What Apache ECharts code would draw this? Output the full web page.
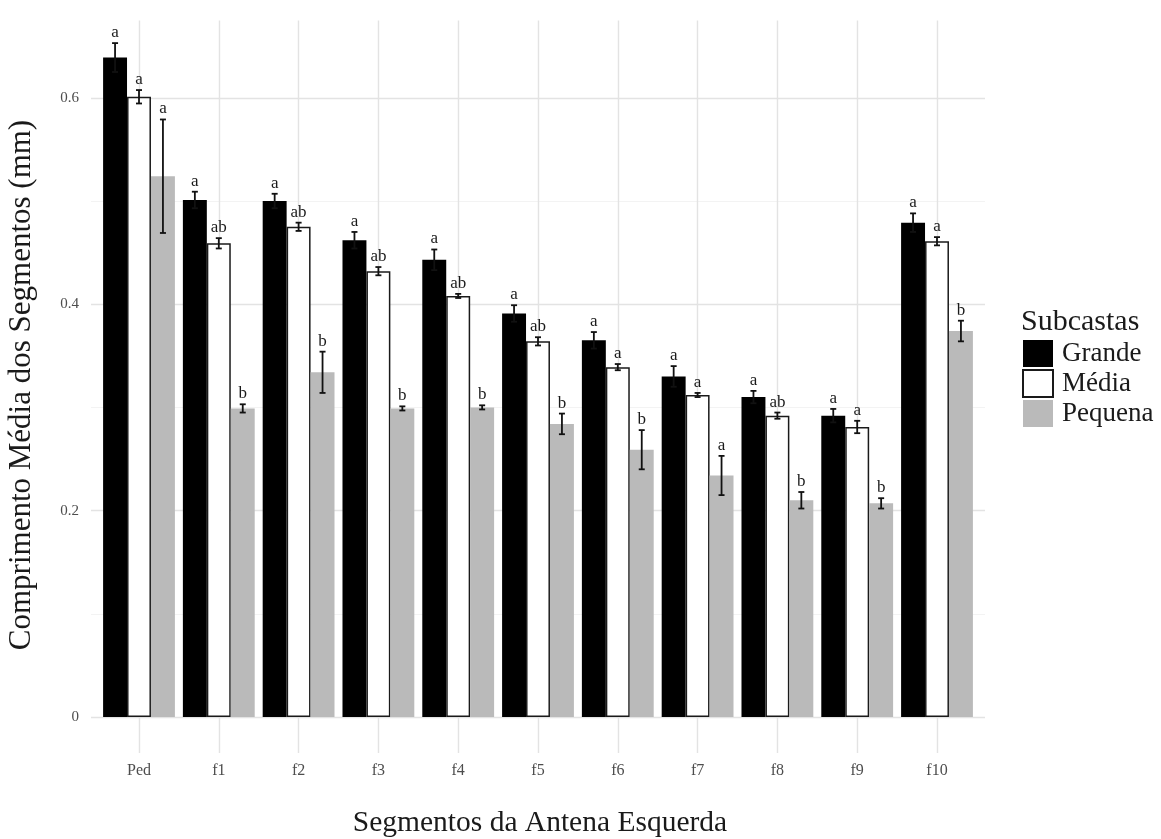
<!DOCTYPE html>
<html>
<head>
<meta charset="utf-8">
<script src="https://cdn.jsdelivr.net/npm/echarts@6/dist/echarts.min.js"></script>
<style>
html,body{margin:0;padding:0;background:#fff;}
#chart{width:1161px;height:839px;}
</style>
</head>
<body>
<div id="chart"></div>
<script>
const categories = ['Ped', 'f1', 'f2', 'f3', 'f4', 'f5', 'f6', 'f7', 'f8', 'f9', 'f10'];
const seriesNames = ['Grande', 'Média', 'Pequena'];
const grande = [0.639, 0.501, 0.500, 0.462, 0.443, 0.391, 0.365, 0.330, 0.310, 0.292, 0.479];
const grandeErr = [0.014, 0.008, 0.007, 0.008, 0.010, 0.008, 0.008, 0.010, 0.006, 0.0065, 0.009];
const media = [0.601, 0.459, 0.475, 0.432, 0.408, 0.364, 0.339, 0.312, 0.292, 0.281, 0.461];
const mediaErr = [0.0065, 0.005, 0.004, 0.004, 0.002, 0.004, 0.003, 0.002, 0.003, 0.006, 0.004];
const pequena = [0.524, 0.299, 0.334, 0.299, 0.300, 0.284, 0.259, 0.234, 0.210, 0.207, 0.374];
const pequenaErr = [0.055, 0.004, 0.020, 0.002, 0.002, 0.010, 0.019, 0.019, 0.008, 0.005, 0.010];
const grandeLetters = ['a', 'a', 'a', 'a', 'a', 'a', 'a', 'a', 'a', 'a', 'a'];
const mediaLetters = ['a', 'ab', 'ab', 'ab', 'ab', 'ab', 'a', 'a', 'ab', 'a', 'a'];
const pequenaLetters = ['a', 'b', 'b', 'b', 'b', 'b', 'b', 'a', 'b', 'b', 'b'];
const yLabelTicks = [0, 0.2, 0.4, 0.6];
const yMajorGrid = [0, 0.2, 0.4, 0.6];
const yMinorGrid = [0.1, 0.3, 0.5];

const FONT = "'Liberation Serif', 'DejaVu Serif', serif";
const colors = ['#000000', '#ffffff', '#bababa'];
const Y_MIN = -0.035, Y_MAX = 0.675;

const chart = echarts.init(document.getElementById('chart'), null, {renderer: 'canvas'});

const values = [grande, media, pequena];
const errs = [grandeErr, mediaErr, pequenaErr];
const letters = [grandeLetters, mediaLetters, pequenaLetters];

function errorSeries(s) {
  return {
    type: 'custom',
    name: seriesNames[s] + ' erro',
    xAxisIndex: 0, yAxisIndex: 0,
    z: 5,
    silent: true,
    data: categories.map((c, i) => [i, values[s][i], errs[s][i]]),
    renderItem: function (params, api) {
      const idx = api.value(0), v = api.value(1), e = api.value(2);
      const band = api.size([1, 0])[0];
      const barW = band * 0.9 / 3;
      const off = (s - 1) * barW;
      const top = api.coord([idx, v + e]);
      const bot = api.coord([idx, v - e]);
      const x = top[0] + off;
      const cap = 3;
      const ls = {stroke: '#111', lineWidth: 1.8};
      return {
        type: 'group',
        children: [
          {type: 'line', shape: {x1: x, y1: top[1], x2: x, y2: bot[1]}, style: ls},
          {type: 'line', shape: {x1: x - cap, y1: top[1], x2: x + cap, y2: top[1]}, style: ls},
          {type: 'line', shape: {x1: x - cap, y1: bot[1], x2: x + cap, y2: bot[1]}, style: ls},
          {type: 'text', x: x, y: top[1] - 2,
           style: {text: letters[s][idx], fontSize: 17, fontFamily: FONT, fill: '#1a1a1a',
                   align: 'center', verticalAlign: 'bottom'}}
        ]
      };
    }
  };
}

const option = {
  backgroundColor: '#ffffff',
  animation: false,
  grid: [
    {left: 99.1, right: 184.1, top: 20.4, bottom: 85.9, containLabel: false},
    {left: 91, right: 176, top: 20.4, bottom: 85.9, containLabel: false}
  ],
  xAxis: [
    {
      type: 'category', gridIndex: 0, data: categories,
      boundaryGap: true,
      axisLine: {show: false}, axisTick: {show: false}, splitLine: {show: false},
      axisLabel: {fontSize: 16, fontFamily: FONT, color: '#4d4d4d', margin: 10}
    },
    {
      type: 'value', gridIndex: 1, min: 0, max: 1, show: false
    }
  ],
  yAxis: [
    {type: 'value', gridIndex: 0, min: Y_MIN, max: Y_MAX, show: false},
    {
      type: 'value', gridIndex: 1, min: Y_MIN, max: Y_MAX,
      axisLine: {show: false}, axisTick: {show: false}, splitLine: {show: false},
      axisLabel: {
        customValues: yLabelTicks,
        fontSize: 15, fontFamily: FONT, color: '#4d4d4d', margin: 12,
        formatter: v => (Math.abs(v) < 1e-9 ? '0' : String(+v.toFixed(1)))
      }
    }
  ],
  legend: {
    orient: 'vertical', left: 1022, top: 340, padding: 0,
    data: seriesNames,
    icon: 'rect', itemWidth: 30, itemHeight: 27, itemGap: 2,
    textStyle: {fontSize: 27, fontFamily: FONT, color: '#1a1a1a', padding: [0, 0, 0, 4], lineHeight: 27},
    selectedMode: false
  },
  graphic: [
    {type: 'text', x: 1021, y: 322,
     style: {text: 'Subcastas', fontSize: 30, fontFamily: FONT, fill: '#1a1a1a', align: 'left', verticalAlign: 'middle'}},
    {type: 'text', x: 540, y: 823,
     style: {text: 'Segmentos da Antena Esquerda', fontSize: 29.5, fontFamily: FONT, fill: '#1a1a1a', align: 'center', verticalAlign: 'middle'}},
    {type: 'text', x: 22, y: 385, rotation: Math.PI / 2,
     style: {text: 'Comprimento Média dos Segmentos (mm)', fontSize: 31, fontFamily: FONT, fill: '#1a1a1a', align: 'center', verticalAlign: 'middle'}}
  ],
  series: [
    {
      type: 'line', name: 'grid-h', xAxisIndex: 1, yAxisIndex: 1, z: 0,
      data: [[0, 0]], showSymbol: false, symbolSize: 0, lineStyle: {opacity: 0}, silent: true,
      markLine: {
        z: 0, silent: true, symbol: 'none', label: {show: false}, animation: false,
        data: yMajorGrid.map(v => ({yAxis: v, lineStyle: {color: '#e3e3e3', width: 1.4, type: 'solid'}}))
          .concat(yMinorGrid.map(v => ({yAxis: v, lineStyle: {color: '#f0f0f0', width: 0.8, type: 'solid'}})))
      }
    },
    {
      type: 'line', name: 'grid-v', xAxisIndex: 0, yAxisIndex: 0, z: 0,
      data: [], showSymbol: false, silent: true,
      markLine: {
        z: 0, silent: true, symbol: 'none', label: {show: false}, animation: false,
        data: categories.map(c => ({xAxis: c, lineStyle: {color: '#e3e3e3', width: 1.4, type: 'solid'}}))
      }
    },
    {
      type: 'bar', name: seriesNames[0], xAxisIndex: 0, yAxisIndex: 0, z: 2,
      data: grande, barGap: '0%', barCategoryGap: '10%',
      itemStyle: {color: colors[0], borderColor: '#000', borderWidth: 0}
    },
    {
      type: 'bar', name: seriesNames[1], xAxisIndex: 0, yAxisIndex: 0, z: 2,
      data: media, barGap: '0%', barCategoryGap: '10%',
      itemStyle: {color: colors[1], borderColor: '#1a1a1a', borderWidth: 1.5}
    },
    {
      type: 'bar', name: seriesNames[2], xAxisIndex: 0, yAxisIndex: 0, z: 2,
      data: pequena, barGap: '0%', barCategoryGap: '10%',
      itemStyle: {color: colors[2], borderWidth: 0}
    },
    errorSeries(0), errorSeries(1), errorSeries(2)
  ]
};
chart.setOption(option);
</script>
</body>
</html>
